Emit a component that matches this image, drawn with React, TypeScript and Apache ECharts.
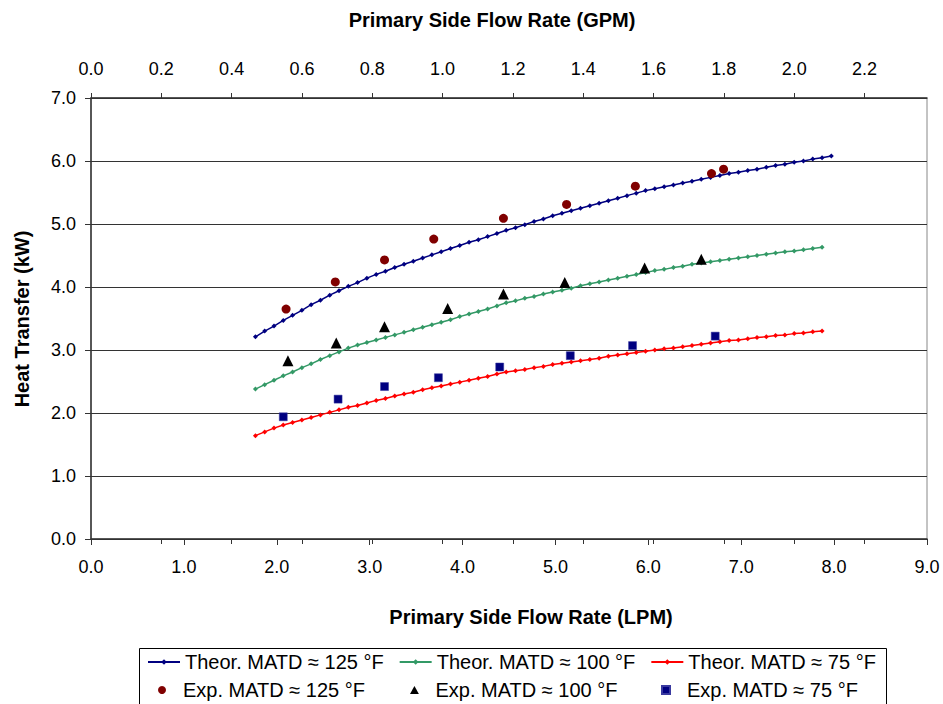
import React, { useEffect, useRef } from "react";
import * as echarts from "echarts";

const FONT = "'Liberation Sans', Arial, Helvetica, sans-serif";

// Primary side flow rate (LPM) for the theoretical curves
const lpm = [
  1.77, 1.87, 1.97, 2.07, 2.17, 2.27, 2.37, 2.47, 2.57, 2.67, 2.77, 2.87, 2.97, 3.07, 3.17, 3.27,
  3.37, 3.47, 3.57, 3.67, 3.77, 3.87, 3.97, 4.07, 4.17, 4.27, 4.37, 4.47, 4.57, 4.67, 4.77, 4.87,
  4.97, 5.07, 5.17, 5.27, 5.37, 5.47, 5.57, 5.67, 5.77, 5.87, 5.97, 6.07, 6.17, 6.27, 6.37, 6.47,
  6.57, 6.67, 6.77, 6.87, 6.97, 7.07, 7.17, 7.27, 7.37, 7.47, 7.57, 7.67, 7.77, 7.87, 7.97,
];

const theor125 = [
  3.21, 3.3, 3.38, 3.47, 3.55, 3.63, 3.72, 3.79, 3.87, 3.94, 4.01, 4.07, 4.14, 4.2, 4.25, 4.31,
  4.36, 4.41, 4.46, 4.51, 4.56, 4.61, 4.66, 4.71, 4.75, 4.8, 4.85, 4.9, 4.94, 4.99, 5.04, 5.08,
  5.13, 5.17, 5.21, 5.25, 5.29, 5.33, 5.37, 5.41, 5.45, 5.49, 5.53, 5.56, 5.59, 5.62, 5.65, 5.68,
  5.71, 5.74, 5.77, 5.8, 5.82, 5.85, 5.87, 5.9, 5.93, 5.95, 5.98, 6.0, 6.03, 6.05, 6.08,
];

const theor100 = [
  2.38, 2.45, 2.52, 2.59, 2.65, 2.72, 2.78, 2.85, 2.91, 2.97, 3.03, 3.08, 3.12, 3.16, 3.2, 3.24,
  3.28, 3.32, 3.36, 3.4, 3.44, 3.48, 3.53, 3.57, 3.61, 3.65, 3.7, 3.75, 3.78, 3.82, 3.85, 3.89,
  3.92, 3.95, 3.98, 4.02, 4.05, 4.08, 4.11, 4.14, 4.17, 4.2, 4.23, 4.26, 4.28, 4.31, 4.33, 4.36,
  4.38, 4.4, 4.42, 4.44, 4.46, 4.48, 4.5, 4.52, 4.54, 4.56, 4.57, 4.59, 4.61, 4.63,
];

const theor75 = [
  1.64, 1.7, 1.76, 1.81, 1.85, 1.89, 1.93, 1.97, 2.01, 2.05, 2.09, 2.12, 2.16, 2.2, 2.23, 2.27,
  2.3, 2.33, 2.37, 2.4, 2.43, 2.46, 2.49, 2.52, 2.55, 2.58, 2.62, 2.65, 2.67, 2.69, 2.72, 2.74,
  2.77, 2.79, 2.81, 2.83, 2.85, 2.87, 2.9, 2.92, 2.94, 2.96, 2.98, 3.0, 3.02, 3.03, 3.05, 3.07,
  3.09, 3.11, 3.13, 3.15, 3.16, 3.18, 3.2, 3.21, 3.23, 3.24, 3.26, 3.27, 3.29, 3.3,
];

// Experimental points
const exp125X = [2.1, 2.63, 3.16, 3.69, 4.44, 5.12, 5.86, 6.68, 6.81];
const exp125Y = [3.65, 4.08, 4.43, 4.76, 5.09, 5.31, 5.6, 5.8, 5.87];
const exp100X = [2.12, 2.64, 3.16, 3.84, 4.44, 5.1, 5.96, 6.57];
const exp100Y = [2.83, 3.11, 3.37, 3.66, 3.89, 4.07, 4.3, 4.44];
const exp75X = [2.07, 2.66, 3.16, 3.74, 4.4, 5.16, 5.83, 6.72];
const exp75Y = [1.94, 2.22, 2.42, 2.56, 2.73, 2.91, 3.07, 3.22];

const LPM_PER_GPM = 3.785;
const LPM_MAX = 9;
const KW_MAX = 7;

const theorNames = ["Theor. MATD ≈ 125 °F", "Theor. MATD ≈ 100 °F", "Theor. MATD ≈ 75 °F"];
const expNames = ["Exp. MATD ≈ 125 °F", "Exp. MATD ≈ 100 °F", "Exp. MATD ≈ 75 °F"];

const pairs = (xs: number[], ys: number[]) => ys.map((y, i) => [xs[i], y]);
const fmt1 = (v: number) => v.toFixed(1);

const TRI_ICON = "path://M5,0 L10,9 L0,9 Z";
const SQ_ICON = "path://M0,0 L8,0 L8,8 L0,8 Z";

export default function App() {
  const ref = useRef<HTMLDivElement>(null);

  useEffect(() => {
    if (!ref.current) return;
    const chart = echarts.init(ref.current, null, { renderer: "svg" });

    const grid = { left: 91, right: 16, top: 98, bottom: 165 };
    const axisColor = "#333";

    const theorSeries = (name: string, data: number[], color: string) => ({
      name,
      type: "line",
      xAxisIndex: 0,
      yAxisIndex: 0,
      data: pairs(lpm, data),
      color,
      symbol: "diamond",
      symbolSize: 5,
      showSymbol: true,
      showAllSymbol: true,
      lineStyle: { width: 1.5, color },
      itemStyle: { color },
      z: 3,
    });

    const expLegend = (name: string, icon: string, left: number) => ({
      data: [{ name, icon }],
      left,
      top: 680,
      padding: 0,
      itemWidth: 32,
      itemHeight: 8,
      symbolKeepAspect: true,
      textStyle: { fontSize: 20, color: "#000", fontFamily: FONT },
      selectedMode: false,
    });

    const option: any = {
      animation: false,
      backgroundColor: "#fff",
      textStyle: { fontFamily: FONT },
      grid: [
        { ...grid, show: true, borderColor: "#888", borderWidth: 1, backgroundColor: "#fff" },
        { ...grid, show: false },
      ],
      xAxis: [
        {
          type: "value",
          gridIndex: 0,
          position: "bottom",
          min: 0,
          max: LPM_MAX,
          interval: 1,
          axisLine: { show: true, onZero: false, lineStyle: { color: axisColor, width: 1.5 } },
          axisTick: { show: true, length: 6, lineStyle: { color: axisColor } },
          axisLabel: { formatter: fmt1, fontSize: 18, color: "#000", margin: 19, fontFamily: FONT },
          splitLine: { show: false },
        },
        {
          type: "value",
          gridIndex: 0,
          position: "top",
          min: 0,
          max: LPM_MAX / LPM_PER_GPM,
          interval: 0.2,
          axisLine: { show: true, onZero: false, lineStyle: { color: axisColor, width: 1.5 } },
          axisTick: { show: true, length: 5, lineStyle: { color: axisColor } },
          axisLabel: {
            formatter: fmt1,
            fontSize: 18,
            color: "#000",
            margin: 20,
            fontFamily: FONT,
            showMaxLabel: false,
          },
          splitLine: { show: false },
        },
        {
          type: "value",
          gridIndex: 1,
          position: "top",
          min: 0,
          max: LPM_MAX / LPM_PER_GPM,
          interval: 0.2,
          axisLine: { show: false },
          axisTick: { show: true, inside: true, length: 5, lineStyle: { color: axisColor } },
          axisLabel: { show: false },
          splitLine: { show: false },
        },
      ],
      yAxis: [
        {
          type: "value",
          gridIndex: 0,
          position: "left",
          min: 0,
          max: KW_MAX,
          interval: 1,
          axisLine: { show: true, onZero: false, lineStyle: { color: axisColor, width: 1.5 } },
          axisTick: { show: true, length: 6, lineStyle: { color: axisColor } },
          axisLabel: { formatter: fmt1, fontSize: 18, color: "#000", margin: 15, fontFamily: FONT },
          splitLine: { show: true, lineStyle: { color: "#333", width: 1 } },
        },
        {
          type: "value",
          gridIndex: 1,
          position: "left",
          min: 0,
          max: KW_MAX,
          interval: 1,
          axisLine: { show: false },
          axisTick: { show: true, inside: true, length: 6, lineStyle: { color: axisColor } },
          axisLabel: { show: false },
          splitLine: { show: false },
        },
      ],
      legend: [
        {
          data: theorNames,
          left: 147,
          top: 652,
          padding: 0,
          itemGap: 15,
          itemWidth: 32,
          itemHeight: 7,
          textStyle: { fontSize: 20, color: "#000", fontFamily: FONT },
          selectedMode: false,
        },
        expLegend(expNames[0], "circle", 158),
        expLegend(expNames[1], TRI_ICON, 410),
        expLegend(expNames[2], SQ_ICON, 661),
      ],
      graphic: [
        {
          type: "rect",
          z: 0,
          shape: { x: 139.5, y: 648.5, width: 747, height: 70 },
          style: { fill: "#fff", stroke: "#000", lineWidth: 1 },
        },
        {
          type: "text",
          x: 492,
          y: 20,
          style: {
            text: "Primary Side Flow Rate (GPM)",
            font: `bold 20px ${FONT}`,
            fill: "#000",
            textAlign: "center",
            textVerticalAlign: "middle",
          },
        },
        {
          type: "text",
          x: 531,
          y: 617,
          style: {
            text: "Primary Side Flow Rate (LPM)",
            font: `bold 20px ${FONT}`,
            fill: "#000",
            textAlign: "center",
            textVerticalAlign: "middle",
          },
        },
        {
          type: "text",
          x: 22,
          y: 319,
          rotation: Math.PI / 2,
          style: {
            text: "Heat Transfer (kW)",
            font: `bold 20px ${FONT}`,
            fill: "#000",
            textAlign: "center",
            textVerticalAlign: "middle",
          },
        },
      ],
      series: [
        theorSeries(theorNames[0], theor125, "#000080"),
        theorSeries(theorNames[1], theor100, "#339966"),
        theorSeries(theorNames[2], theor75, "#ff0000"),
        {
          name: expNames[0],
          type: "scatter",
          xAxisIndex: 0,
          yAxisIndex: 0,
          data: pairs(exp125X, exp125Y),
          symbol: "circle",
          symbolSize: 9,
          itemStyle: { color: "#800000", opacity: 1 },
          z: 4,
        },
        {
          name: expNames[1],
          type: "scatter",
          xAxisIndex: 0,
          yAxisIndex: 0,
          data: pairs(exp100X, exp100Y),
          symbol: "triangle",
          symbolSize: 11,
          itemStyle: { color: "#000", opacity: 1 },
          z: 4,
        },
        {
          name: expNames[2],
          type: "scatter",
          xAxisIndex: 0,
          yAxisIndex: 0,
          data: pairs(exp75X, exp75Y),
          symbol: "rect",
          symbolSize: 8,
          itemStyle: { color: "#000080", borderColor: "#3a3aa0", borderWidth: 0.5, opacity: 1 },
          z: 4,
        },
      ],
    };

    chart.setOption(option);
    return () => chart.dispose();
  }, []);

  return (
    <div
      ref={ref}
      style={{ position: "absolute", left: 0, top: 0, width: 943, height: 704 }}
    />
  );
}
